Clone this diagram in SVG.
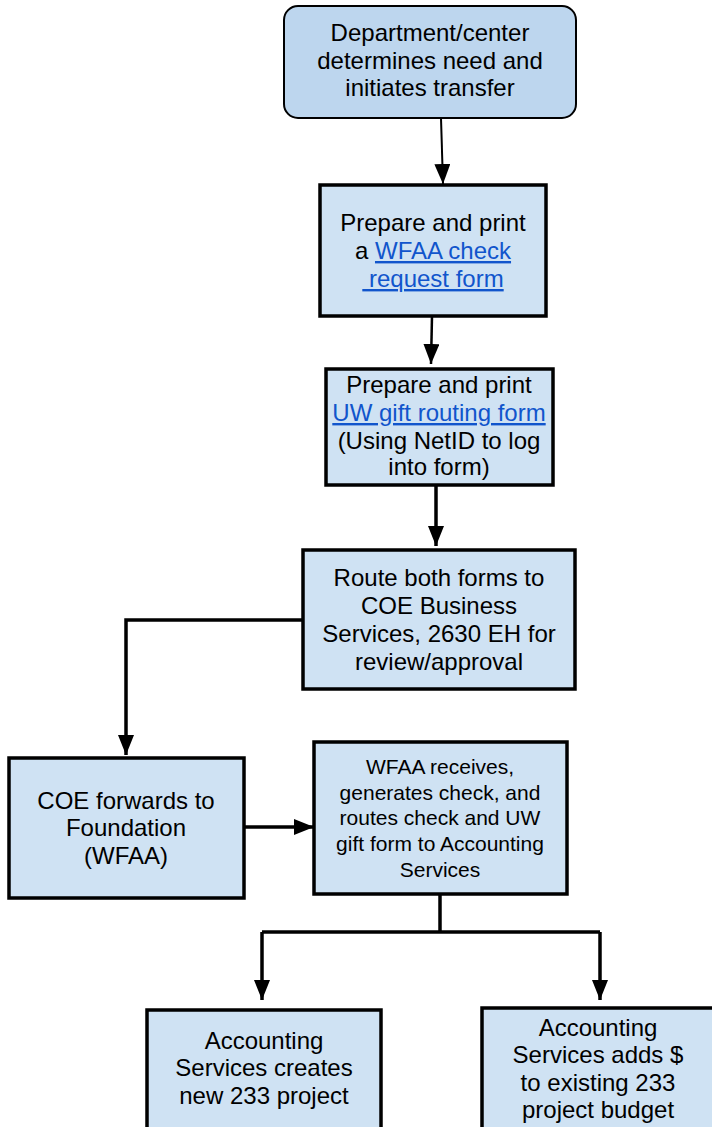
<svg xmlns="http://www.w3.org/2000/svg" width="712" height="1127" viewBox="0 0 712 1127">
<defs>
<style>
.n{fill:#cfe2f3;stroke:#000;stroke-width:3.5}
.t{font-family:"Liberation Sans",Arial,sans-serif;font-size:24px;fill:#000;text-anchor:middle}
.s{font-size:21px}
.lk{fill:#1155cc;text-decoration:underline}
.c{fill:none;stroke:#000;stroke-width:3.5}
</style>
<marker id="a" viewBox="0 0 20 16" refX="20" refY="8" markerWidth="20" markerHeight="16" orient="auto" markerUnits="userSpaceOnUse">
<path d="M0,0 L20,8 L0,16 Z" fill="#000"/>
</marker>
</defs>
<g id="connectors">
<path class="c" style="stroke-width:2" d="M441,118 L443,184" marker-end="url(#a)"/>
<path class="c" style="stroke-width:2.5" d="M432,316 L431,364" marker-end="url(#a)"/>
<path class="c" d="M436,485 L436,546" marker-end="url(#a)"/>
<path class="c" d="M302,620 L126,620 L126,755" marker-end="url(#a)"/>
<path class="c" d="M244,827 L314,827" marker-end="url(#a)"/>
<path class="c" d="M440,894 L440,932"/>
<path class="c" d="M262,932 L600,932"/>
<path class="c" d="M262,932 L262,1000" marker-end="url(#a)"/>
<path class="c" d="M600,932 L600,1000" marker-end="url(#a)"/>
</g>
<g id="n1">
<rect x="284" y="6" width="292" height="112" rx="14" fill="#bdd6ee" stroke="#000" stroke-width="2"/>
<text class="t" x="430" y="41">Department/center</text>
<text class="t" x="430" y="69">determines need and</text>
<text class="t" x="430" y="96">initiates transfer</text>
</g>
<g id="n2">
<rect class="n" x="320" y="185" width="226" height="131"/>
<text class="t" x="433" y="231">Prepare and print</text>
<text class="t" x="433" y="259">a <tspan class="lk">WFAA check</tspan></text>
<text class="t" x="433" y="287" xml:space="preserve"><tspan class="lk"> request form</tspan></text>
</g>
<g id="n3">
<rect class="n" x="326" y="369" width="227" height="116"/>
<text class="t" x="439" y="393">Prepare and print</text>
<text class="t" x="439" y="421"><tspan class="lk">UW gift routing form</tspan></text>
<text class="t" x="439" y="449">(Using NetID to log</text>
<text class="t" x="439" y="475">into form)</text>
</g>
<g id="n4">
<rect class="n" x="303" y="550" width="272" height="139"/>
<text class="t" x="439" y="586">Route both forms to</text>
<text class="t" x="439" y="614">COE Business</text>
<text class="t" x="439" y="642">Services, 2630 EH for</text>
<text class="t" x="439" y="670">review/approval</text>
</g>
<g id="n5">
<rect class="n" x="9" y="758" width="235" height="140"/>
<text class="t" x="126" y="809">COE forwards to</text>
<text class="t" x="126" y="836">Foundation</text>
<text class="t" x="126" y="864">(WFAA)</text>
</g>
<g id="n6">
<rect class="n" x="314" y="742" width="253" height="152"/>
<text class="t s" x="440" y="774">WFAA receives,</text>
<text class="t s" x="440" y="800">generates check, and</text>
<text class="t s" x="440" y="825">routes check and UW</text>
<text class="t s" x="440" y="851">gift form to Accounting</text>
<text class="t s" x="440" y="877">Services</text>
</g>
<g id="n7">
<rect class="n" x="147" y="1010" width="234" height="125"/>
<text class="t" x="264" y="1049">Accounting</text>
<text class="t" x="264" y="1076">Services creates</text>
<text class="t" x="264" y="1104">new 233 project</text>
</g>
<g id="n8">
<rect class="n" x="482" y="1008" width="240" height="130"/>
<text class="t" x="598" y="1036">Accounting</text>
<text class="t" x="598" y="1063">Services adds $</text>
<text class="t" x="598" y="1091">to existing 233</text>
<text class="t" x="598" y="1118">project budget</text>
</g>
</svg>
